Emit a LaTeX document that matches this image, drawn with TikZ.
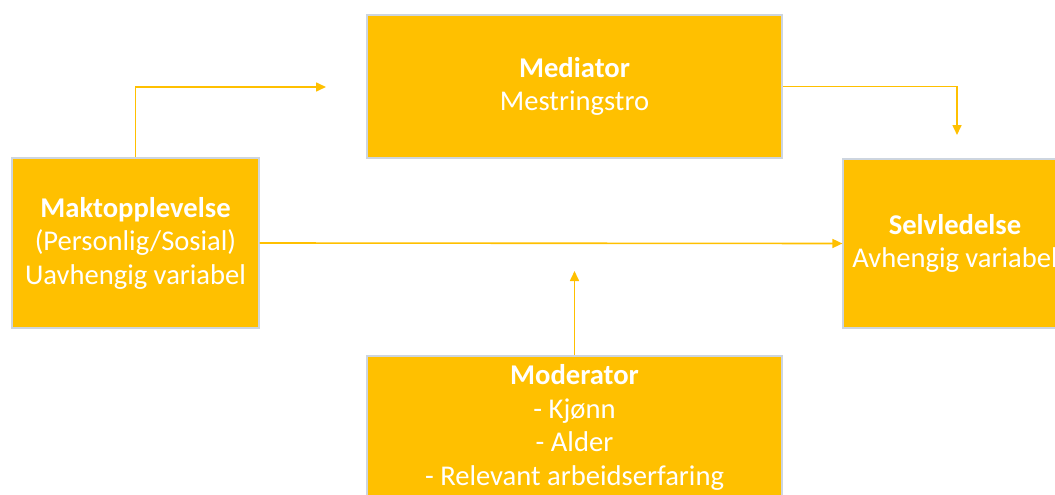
\documentclass[tikz,border=0pt]{standalone}
\usepackage{fontspec}
\setmainfont{Carlito}
\usetikzlibrary{arrows.meta}
\definecolor{amber}{HTML}{FFC000}
\definecolor{edgegray}{HTML}{CDD5DF}
\begin{document}
\begin{tikzpicture}[x=1pt,y=-1pt,
  box/.style={draw=edgegray, line width=1.2pt, fill=amber, text=white, align=center,
    inner sep=0pt, font=\fontsize{28.6}{33.5}\selectfont},
  conn/.style={draw=amber, line width=1.6pt, -{Triangle[length=10pt,width=9pt]}}]
\useasboundingbox (0,0) rectangle (1055,495);
\node[box, minimum width=247pt, minimum height=170pt] (ind) at (135.5,243)
  {\textbf{Maktopplevelse}\\(Personlig/Sosial)\\Uavhengig variabel};
\node[box, minimum width=415pt, minimum height=143pt] (med) at (574.5,86.5)
  {\textbf{Mediator}\\Mestringstro};
\node[box, minimum width=224pt, minimum height=169pt] (dep) at (955,243.5)
  {\textbf{Selvledelse}\\Avhengig variabel};
\node[box, minimum width=415pt, minimum height=143pt] (mod) at (574.5,427.5)
  {\textbf{Moderator}\\- Kjønn\\- Alder\\- Relevant arbeidserfaring};
\coordinate (a1) at (326,87);
\coordinate (a2) at (957,135);
\coordinate (a4) at (574.5,271);
\draw[conn] (ind.north) |- (a1);
\draw[conn] (med.east) -| (a2);
\draw[conn] (ind.east) -- (dep.west);
\draw[conn] (mod.north) -- (a4);
\end{tikzpicture}
\end{document}
